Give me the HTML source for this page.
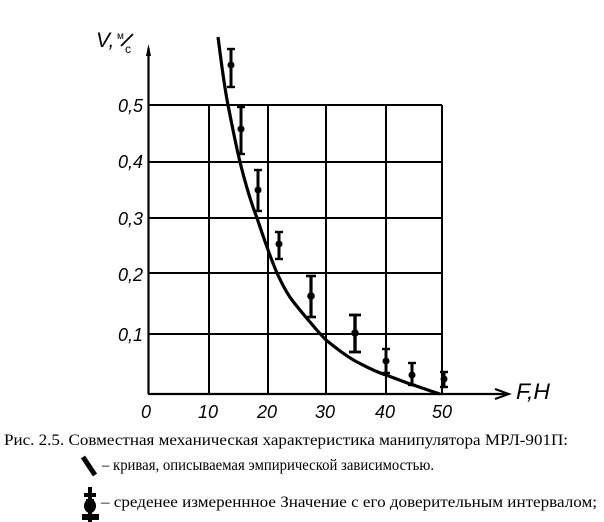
<!DOCTYPE html>
<html>
<head>
<meta charset="utf-8">
<style>
html,body{margin:0;padding:0;background:#fff;}
svg{display:block;}
</style>
</head>
<body>
<svg width="604" height="522" viewBox="0 0 604 522" xmlns="http://www.w3.org/2000/svg">
<rect x="0" y="0" width="604" height="522" fill="#fff"/>
<!-- grid -->
<g stroke="#000" stroke-width="2" fill="none">
  <line x1="209" y1="105" x2="209" y2="394"/>
  <line x1="268" y1="105" x2="268" y2="394"/>
  <line x1="326" y1="105" x2="326" y2="394"/>
  <line x1="386" y1="105" x2="386" y2="394"/>
  <line x1="442" y1="105" x2="442" y2="394"/>
  <line x1="149" y1="105" x2="442" y2="105"/>
  <line x1="149" y1="162" x2="442" y2="162"/>
  <line x1="149" y1="218" x2="442" y2="218"/>
  <line x1="149" y1="273" x2="442" y2="273"/>
  <line x1="149" y1="334" x2="442" y2="334"/>
</g>
<!-- axes -->
<g stroke="#000" fill="none">
  <line x1="148.5" y1="394" x2="148.5" y2="48" stroke-width="2.2"/>
  <line x1="148" y1="394" x2="509" y2="394" stroke-width="2.2"/>
  <polyline points="495,389 509,394 495,399" stroke-width="2"/>
</g>
<polygon points="146,56 148.5,44 151,56" fill="#000"/>
<!-- curve -->
<path d="M218,37 C221,60 224,85 228,105 C232,125 236,146 240,162 C245,182 250,200 257,218 C263,236 270,257 277,273 C282,284 286,292 292,300 C298,308 304,315 310,322 C315,328 320,334 326,340 C336,348 346,356 357,362 C367,367 376,372 386,375 C394,378 402,381 410,384 C420,387 430,391 440,394" stroke="#000" stroke-width="3.2" fill="none"/>
<!-- error bars -->
<g stroke="#000" fill="none">
  <g stroke-width="3"><line x1="231" y1="49" x2="231" y2="87"/></g>
  <g stroke-width="2.4"><line x1="227" y1="49" x2="235" y2="49"/><line x1="227" y1="87" x2="235" y2="87"/></g>
  <g stroke-width="3"><line x1="241" y1="107" x2="241" y2="154"/></g>
  <g stroke-width="2.4"><line x1="237" y1="107" x2="245" y2="107"/><line x1="237" y1="154" x2="245" y2="154"/></g>
  <g stroke-width="3"><line x1="258" y1="170" x2="258" y2="211"/></g>
  <g stroke-width="2.4"><line x1="254" y1="170" x2="262" y2="170"/><line x1="254" y1="211" x2="262" y2="211"/></g>
  <g stroke-width="3"><line x1="279" y1="232" x2="279" y2="259"/></g>
  <g stroke-width="2.4"><line x1="275" y1="232" x2="283" y2="232"/><line x1="275" y1="259" x2="283" y2="259"/></g>
  <g stroke-width="3.2"><line x1="311" y1="276" x2="311" y2="317"/></g>
  <g stroke-width="2.6"><line x1="306" y1="276" x2="316" y2="276"/><line x1="306" y1="317" x2="316" y2="317"/></g>
  <g stroke-width="3.4"><line x1="355" y1="315" x2="355" y2="352"/></g>
  <g stroke-width="2.8"><line x1="349" y1="315" x2="361" y2="315"/><line x1="349" y1="352" x2="361" y2="352"/></g>
  <g stroke-width="3"><line x1="386" y1="349" x2="386" y2="373"/></g>
  <g stroke-width="2.4"><line x1="382" y1="349" x2="390" y2="349"/><line x1="382" y1="373" x2="390" y2="373"/></g>
  <g stroke-width="3"><line x1="412" y1="363" x2="412" y2="385"/></g>
  <g stroke-width="2.4"><line x1="408" y1="363" x2="416" y2="363"/><line x1="408" y1="385" x2="416" y2="385"/></g>
  <g stroke-width="3"><line x1="444" y1="372" x2="444" y2="387"/></g>
  <g stroke-width="2.4"><line x1="440" y1="372" x2="448" y2="372"/><line x1="440" y1="387" x2="448" y2="387"/></g>
</g>
<g fill="#000">
  <circle cx="231" cy="65" r="3.5"/>
  <circle cx="241" cy="129" r="3.5"/>
  <circle cx="258" cy="190" r="3.5"/>
  <circle cx="279" cy="244" r="3.5"/>
  <circle cx="311" cy="296" r="3.8"/>
  <circle cx="355" cy="333" r="3.8"/>
  <circle cx="386" cy="361" r="3.5"/>
  <circle cx="412" cy="375" r="3.5"/>
  <circle cx="444" cy="379" r="3.5"/>
</g>
<!-- y tick labels -->
<g font-family="Liberation Sans, sans-serif" font-style="italic" font-size="18" fill="#000" text-anchor="end">
  <text x="143" y="112">0,5</text>
  <text x="143" y="168">0,4</text>
  <text x="143" y="225">0,3</text>
  <text x="143" y="281">0,2</text>
  <text x="143" y="341">0,1</text>
</g>
<!-- x tick labels -->
<g font-family="Liberation Sans, sans-serif" font-style="italic" font-size="18" fill="#000" text-anchor="middle">
  <text x="146" y="418">0</text>
  <text x="208" y="418">10</text>
  <text x="267" y="418">20</text>
  <text x="325" y="418">30</text>
  <text x="385" y="418">40</text>
  <text x="442" y="418">50</text>
</g>
<!-- axis titles -->
<text x="516" y="399" font-family="Liberation Sans, sans-serif" font-style="italic" font-size="22" fill="#000" textLength="34" lengthAdjust="spacingAndGlyphs">F,H</text>
<text x="96" y="47" font-family="Liberation Sans, sans-serif" font-style="italic" font-size="21" fill="#000">V,</text>
<text x="117" y="39" font-family="Liberation Sans, sans-serif" font-size="10" fill="#000">м</text>
<line x1="121" y1="46" x2="133" y2="34" stroke="#000" stroke-width="1.8"/>
<text x="125" y="53" font-family="Liberation Sans, sans-serif" font-size="12" fill="#000">с</text>
<!-- caption -->
<g font-family="Liberation Serif, Noto Serif CJK SC, serif" font-size="16" fill="#000">
  <text x="4" y="445" textLength="564" lengthAdjust="spacingAndGlyphs">Рис. 2.5. Совместная механическая характеристика манипулятора МРЛ-901П:</text>
  <text x="102" y="470" textLength="332" lengthAdjust="spacingAndGlyphs">– кривая, описываемая эмпирической зависимостью.</text>
  <text x="101" y="507" textLength="496" lengthAdjust="spacingAndGlyphs">– среденее измереннное Значение с его доверительным интервалом;</text>
</g>
<!-- legend icons -->
<line x1="83" y1="457" x2="95" y2="475" stroke="#000" stroke-width="5"/>
<g fill="#000">
  <rect x="88" y="487" width="4" height="35"/>
  <rect x="84" y="493" width="12" height="4"/>
  <ellipse cx="90" cy="506" rx="6" ry="7"/>
  <rect x="82" y="514" width="17" height="6"/>
  <rect x="86" y="499" width="8" height="4"/>
</g>
</svg>
</body>
</html>
